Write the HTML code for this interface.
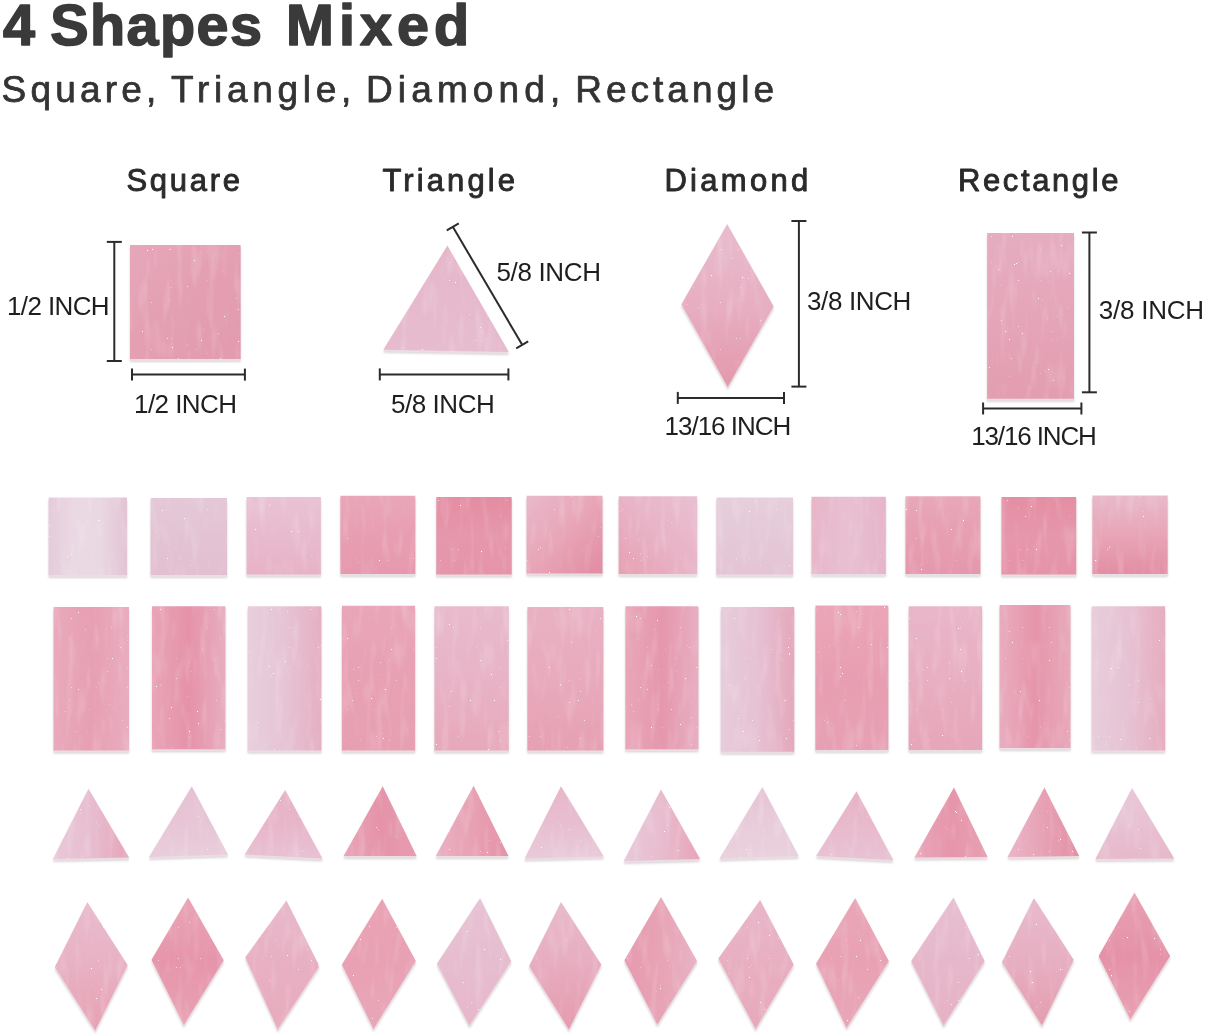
<!DOCTYPE html>
<html><head><meta charset="utf-8"><style>
html,body{margin:0;padding:0;background:#fff;width:1205px;height:1036px;overflow:hidden}
svg{display:block;font-family:"Liberation Sans", sans-serif;-webkit-font-smoothing:antialiased}
text{will-change:transform}
</style></head><body>
<svg width="1205" height="1036" viewBox="0 0 1205 1036">
<defs>
<filter id="sh" x="-15%" y="-15%" width="130%" height="135%" color-interpolation-filters="sRGB">
<feGaussianBlur in="SourceAlpha" stdDeviation="1.2"/><feOffset dy="2.6" result="b"/>
<feFlood flood-color="#7a6a70" flood-opacity="0.30"/><feComposite in2="b" operator="in" result="shadow"/>
<feOffset in="SourceAlpha" dy="1.6" result="ed"/><feFlood flood-color="#eadde3"/><feComposite in2="ed" operator="in" result="edge"/>
<feTurbulence type="fractalNoise" baseFrequency="0.12 0.025" numOctaves="2" seed="5" result="n"/>
<feColorMatrix in="n" type="matrix" values="0 0 0 0 1  0 0 0 0 1  0 0 0 0 1  0.45 0 0 0 -0.22" result="wn"/>
<feComposite in="wn" in2="SourceAlpha" operator="in" result="wt"/>
<feTurbulence type="turbulence" baseFrequency="0.45" numOctaves="1" seed="11" result="n2"/>
<feColorMatrix in="n2" type="matrix" values="0 0 0 0 1  0 0 0 0 1  0 0 0 0 1  0 6 0 0 -3.3" result="sp"/>
<feComposite in="sp" in2="SourceAlpha" operator="in" result="spk"/>
<feMerge><feMergeNode in="shadow"/><feMergeNode in="edge"/><feMergeNode in="SourceGraphic"/><feMergeNode in="wt"/><feMergeNode in="spk"/></feMerge>
</filter>
<linearGradient id="g0" x1="0" y1="0" x2="1" y2="1"><stop offset="0.000" stop-color="#e6a7ba"/><stop offset="0.500" stop-color="#e49fb2"/><stop offset="1.000" stop-color="#e29aae"/></linearGradient><linearGradient id="g1" x1="0" y1="0" x2="0" y2="1"><stop offset="0.000" stop-color="#e5b6c9"/><stop offset="0.500" stop-color="#e6b9cc"/><stop offset="1.000" stop-color="#e6bcce"/></linearGradient><linearGradient id="g2" x1="0" y1="0" x2="0" y2="1"><stop offset="0.000" stop-color="#e8bcce"/><stop offset="0.500" stop-color="#e7aec1"/><stop offset="1.000" stop-color="#e498ad"/></linearGradient><linearGradient id="g3" x1="0" y1="0" x2="0" y2="1"><stop offset="0.000" stop-color="#e6acc0"/><stop offset="0.500" stop-color="#e5a5b9"/><stop offset="1.000" stop-color="#e39db0"/></linearGradient><linearGradient id="g4" x1="0" y1="0" x2="1" y2="0"><stop offset="0.000" stop-color="#e5cbda"/><stop offset="0.333" stop-color="#ead9e3"/><stop offset="0.667" stop-color="#e9d7e1"/><stop offset="1.000" stop-color="#e3c4d4"/></linearGradient><linearGradient id="g5" x1="0" y1="0" x2="0" y2="1"><stop offset="0.000" stop-color="#e4c8d7"/><stop offset="0.500" stop-color="#e3c3d3"/><stop offset="1.000" stop-color="#e2bfd1"/></linearGradient><linearGradient id="g6" x1="0" y1="0" x2="0" y2="1"><stop offset="0.000" stop-color="#e9c2d4"/><stop offset="0.500" stop-color="#e8bacd"/><stop offset="1.000" stop-color="#e7b2c6"/></linearGradient><linearGradient id="g7" x1="0" y1="0" x2="0" y2="1"><stop offset="0.000" stop-color="#e9a6b9"/><stop offset="0.500" stop-color="#e89eb2"/><stop offset="1.000" stop-color="#e699ae"/></linearGradient><linearGradient id="g8" x1="0" y1="0" x2="0" y2="1"><stop offset="0.000" stop-color="#e48ca2"/><stop offset="0.500" stop-color="#e697ab"/><stop offset="1.000" stop-color="#e694a9"/></linearGradient><linearGradient id="g9" x1="0" y1="0" x2="1" y2="1"><stop offset="0.000" stop-color="#e8b9cb"/><stop offset="0.500" stop-color="#e8a5b7"/><stop offset="1.000" stop-color="#e28ba2"/></linearGradient><linearGradient id="g10" x1="1" y1="0" x2="0" y2="1"><stop offset="0.000" stop-color="#e9bfd1"/><stop offset="0.500" stop-color="#e8b3c6"/><stop offset="1.000" stop-color="#e7a0b3"/></linearGradient><linearGradient id="g11" x1="0" y1="0" x2="0" y2="1"><stop offset="0.000" stop-color="#e6cedb"/><stop offset="0.500" stop-color="#e5c9d8"/><stop offset="1.000" stop-color="#e4c4d4"/></linearGradient><linearGradient id="g12" x1="0" y1="0" x2="1" y2="0"><stop offset="0.000" stop-color="#e7b5c8"/><stop offset="0.500" stop-color="#e8c0d2"/><stop offset="1.000" stop-color="#e6b4c8"/></linearGradient><linearGradient id="g13" x1="0" y1="0" x2="0" y2="1"><stop offset="0.000" stop-color="#e8a7ba"/><stop offset="0.500" stop-color="#e79eb1"/><stop offset="1.000" stop-color="#e598ad"/></linearGradient><linearGradient id="g14" x1="0" y1="0" x2="0" y2="1"><stop offset="0.000" stop-color="#e48ea3"/><stop offset="0.500" stop-color="#e697ab"/><stop offset="1.000" stop-color="#e693a8"/></linearGradient><linearGradient id="g15" x1="0" y1="0" x2="0" y2="1"><stop offset="0.000" stop-color="#e8b9cb"/><stop offset="0.500" stop-color="#e8a5b7"/><stop offset="1.000" stop-color="#e38ea4"/></linearGradient><linearGradient id="g16" x1="0" y1="0" x2="1" y2="0"><stop offset="0.000" stop-color="#e9a9bc"/><stop offset="0.500" stop-color="#e79fb3"/><stop offset="1.000" stop-color="#e9acbf"/></linearGradient><linearGradient id="g17" x1="0" y1="0" x2="1" y2="0"><stop offset="0.000" stop-color="#e9a5b7"/><stop offset="0.500" stop-color="#e592a9"/><stop offset="1.000" stop-color="#e8adc0"/></linearGradient><linearGradient id="g18" x1="0" y1="0" x2="1" y2="0"><stop offset="0.000" stop-color="#e8cedb"/><stop offset="0.500" stop-color="#e6c4d5"/><stop offset="1.000" stop-color="#e6aec2"/></linearGradient><linearGradient id="g19" x1="0" y1="0" x2="0" y2="1"><stop offset="0.000" stop-color="#e9a6b9"/><stop offset="0.500" stop-color="#e8a0b3"/><stop offset="1.000" stop-color="#e79fb2"/></linearGradient><linearGradient id="g20" x1="0" y1="0" x2="0" y2="1"><stop offset="0.000" stop-color="#e8bacc"/><stop offset="0.500" stop-color="#e8b3c6"/><stop offset="1.000" stop-color="#e7a8bb"/></linearGradient><linearGradient id="g21" x1="0" y1="0" x2="0" y2="1"><stop offset="0.000" stop-color="#e9b1c3"/><stop offset="0.500" stop-color="#e8aabd"/><stop offset="1.000" stop-color="#e6a0b3"/></linearGradient><linearGradient id="g22" x1="0" y1="0" x2="1" y2="0"><stop offset="0.000" stop-color="#e9a6b9"/><stop offset="0.500" stop-color="#e597ad"/><stop offset="1.000" stop-color="#e8aec1"/></linearGradient><linearGradient id="g23" x1="0" y1="0" x2="1" y2="0"><stop offset="0.000" stop-color="#e7ccda"/><stop offset="0.500" stop-color="#e6c1d3"/><stop offset="1.000" stop-color="#e5a7bb"/></linearGradient><linearGradient id="g24" x1="0" y1="0" x2="0" y2="1"><stop offset="0.000" stop-color="#eaa6b7"/><stop offset="0.500" stop-color="#e89eb2"/><stop offset="1.000" stop-color="#e7a0b3"/></linearGradient><linearGradient id="g25" x1="0" y1="0" x2="0" y2="1"><stop offset="0.000" stop-color="#e9b6c9"/><stop offset="0.500" stop-color="#e8aec1"/><stop offset="1.000" stop-color="#e7a6b9"/></linearGradient><linearGradient id="g26" x1="0" y1="0" x2="1" y2="0"><stop offset="0.000" stop-color="#e9acbf"/><stop offset="0.500" stop-color="#e695ab"/><stop offset="1.000" stop-color="#e8a9bb"/></linearGradient><linearGradient id="g27" x1="0" y1="0" x2="1" y2="0"><stop offset="0.000" stop-color="#e8cddb"/><stop offset="0.500" stop-color="#e6c2d3"/><stop offset="1.000" stop-color="#e6adc0"/></linearGradient><linearGradient id="g28" x1="0" y1="0" x2="1" y2="0"><stop offset="0.000" stop-color="#e9c8d8"/><stop offset="0.500" stop-color="#e7bdd0"/><stop offset="1.000" stop-color="#e7a5b8"/></linearGradient><linearGradient id="g29" x1="0" y1="0" x2="0" y2="1"><stop offset="0.000" stop-color="#e6c2d4"/><stop offset="0.500" stop-color="#e7c5d5"/><stop offset="1.000" stop-color="#e9cddb"/></linearGradient><linearGradient id="g30" x1="0" y1="0" x2="0" y2="1"><stop offset="0.000" stop-color="#e7b2c6"/><stop offset="0.500" stop-color="#e8b6c9"/><stop offset="1.000" stop-color="#e8c1d3"/></linearGradient><linearGradient id="g31" x1="0" y1="0" x2="1" y2="0"><stop offset="0.000" stop-color="#e9a6b9"/><stop offset="0.500" stop-color="#e593a8"/><stop offset="1.000" stop-color="#e79cb0"/></linearGradient><linearGradient id="g32" x1="0" y1="0" x2="1" y2="0"><stop offset="0.000" stop-color="#e9b1c3"/><stop offset="0.500" stop-color="#e8a1b3"/><stop offset="1.000" stop-color="#e592a7"/></linearGradient><linearGradient id="g33" x1="0" y1="0" x2="0" y2="1"><stop offset="0.000" stop-color="#e8b6c9"/><stop offset="0.500" stop-color="#e7bed0"/><stop offset="1.000" stop-color="#e9cad9"/></linearGradient><linearGradient id="g34" x1="0" y1="0" x2="1" y2="0"><stop offset="0.000" stop-color="#e8c8d8"/><stop offset="0.500" stop-color="#e8bcce"/><stop offset="1.000" stop-color="#e7a4b7"/></linearGradient><linearGradient id="g35" x1="0" y1="0" x2="0" y2="1"><stop offset="0.000" stop-color="#e6c4d4"/><stop offset="0.500" stop-color="#e8cbd9"/><stop offset="1.000" stop-color="#e9d1dd"/></linearGradient><linearGradient id="g36" x1="0" y1="0" x2="0" y2="1"><stop offset="0.000" stop-color="#e7b2c5"/><stop offset="0.500" stop-color="#e8bacc"/><stop offset="1.000" stop-color="#e8c2d3"/></linearGradient><linearGradient id="g37" x1="0" y1="0" x2="1" y2="0"><stop offset="0.000" stop-color="#e9a8bb"/><stop offset="0.500" stop-color="#e695aa"/><stop offset="1.000" stop-color="#e8a0b2"/></linearGradient><linearGradient id="g38" x1="0" y1="0" x2="1" y2="0"><stop offset="0.000" stop-color="#e9b6c9"/><stop offset="0.500" stop-color="#e7a1b4"/><stop offset="1.000" stop-color="#e490a6"/></linearGradient><linearGradient id="g39" x1="0" y1="0" x2="0" y2="1"><stop offset="0.000" stop-color="#e9c8d8"/><stop offset="0.500" stop-color="#e8c1d2"/><stop offset="1.000" stop-color="#e6b9cb"/></linearGradient><linearGradient id="g40" x1="0" y1="0" x2="0" y2="1"><stop offset="0.000" stop-color="#e8bcce"/><stop offset="0.500" stop-color="#e8b1c3"/><stop offset="1.000" stop-color="#e6a1b3"/></linearGradient><linearGradient id="g41" x1="0" y1="0" x2="0" y2="1"><stop offset="0.000" stop-color="#e9a5b6"/><stop offset="0.500" stop-color="#e695ab"/><stop offset="1.000" stop-color="#e8a1b3"/></linearGradient><linearGradient id="g42" x1="0" y1="0" x2="0" y2="1"><stop offset="0.000" stop-color="#e8b9cb"/><stop offset="0.500" stop-color="#e8afc2"/><stop offset="1.000" stop-color="#e8abbd"/></linearGradient><linearGradient id="g43" x1="0" y1="0" x2="0" y2="1"><stop offset="0.000" stop-color="#e8a3b5"/><stop offset="0.500" stop-color="#e8a1b3"/><stop offset="1.000" stop-color="#e9a6b9"/></linearGradient><linearGradient id="g44" x1="0" y1="0" x2="0" y2="1"><stop offset="0.000" stop-color="#e7c3d5"/><stop offset="0.500" stop-color="#e6bdcf"/><stop offset="1.000" stop-color="#e7b6c9"/></linearGradient><linearGradient id="g45" x1="0" y1="0" x2="0" y2="1"><stop offset="0.000" stop-color="#e8bbcc"/><stop offset="0.500" stop-color="#e7acbf"/><stop offset="1.000" stop-color="#e59baf"/></linearGradient><linearGradient id="g46" x1="0" y1="0" x2="1" y2="0"><stop offset="0.000" stop-color="#e69aaf"/><stop offset="0.500" stop-color="#e8a3b5"/><stop offset="1.000" stop-color="#e8b3c6"/></linearGradient><linearGradient id="g47" x1="0" y1="0" x2="0" y2="1"><stop offset="0.000" stop-color="#e8b6ca"/><stop offset="0.500" stop-color="#e8afc1"/><stop offset="1.000" stop-color="#e7a9bc"/></linearGradient><linearGradient id="g48" x1="0" y1="0" x2="0" y2="1"><stop offset="0.000" stop-color="#e9a6b8"/><stop offset="0.500" stop-color="#e8a1b3"/><stop offset="1.000" stop-color="#e9a6b8"/></linearGradient><linearGradient id="g49" x1="0" y1="0" x2="0" y2="1"><stop offset="0.000" stop-color="#e7bfd1"/><stop offset="0.500" stop-color="#e6b7ca"/><stop offset="1.000" stop-color="#e6b1c5"/></linearGradient><linearGradient id="g50" x1="0" y1="0" x2="0" y2="1"><stop offset="0.000" stop-color="#e8bbcd"/><stop offset="0.500" stop-color="#e7aec1"/><stop offset="1.000" stop-color="#e59db0"/></linearGradient><linearGradient id="g51" x1="0" y1="0" x2="0" y2="1"><stop offset="0.000" stop-color="#e8a0b3"/><stop offset="0.500" stop-color="#e592a8"/><stop offset="1.000" stop-color="#e8a0b2"/></linearGradient>
</defs>
<rect width="1205" height="1036" fill="#fff"/>
<polygon points="130.0,245.1 240.6,245.1 240.6,359.0 130.0,359.0" fill="url(#g0)" filter="url(#sh)"/><polygon points="447.4,245.6 508.9,352.0 383.3,349.8" fill="url(#g1)" filter="url(#sh)"/><polygon points="727.2,224.1 773.6,306.2 727.7,387.0 681.4,304.3" fill="url(#g2)" filter="url(#sh)"/><polygon points="987.2,232.9 1074.0,232.9 1074.0,398.8 987.2,398.8" fill="url(#g3)" filter="url(#sh)"/><polygon points="48.7,497.4 127.0,497.4 127.0,575.0 48.7,575.0" fill="url(#g4)" filter="url(#sh)"/><polygon points="150.7,498.0 227.0,498.0 227.0,575.0 150.7,575.0" fill="url(#g5)" filter="url(#sh)"/><polygon points="246.6,497.0 320.8,497.0 320.8,574.6 246.6,574.6" fill="url(#g6)" filter="url(#sh)"/><polygon points="340.4,495.7 415.3,495.7 415.3,574.0 340.4,574.0" fill="url(#g7)" filter="url(#sh)"/><polygon points="436.3,497.0 511.7,497.0 511.7,574.6 436.3,574.6" fill="url(#g8)" filter="url(#sh)"/><polygon points="526.6,495.7 602.5,495.7 602.5,573.4 526.6,573.4" fill="url(#g9)" filter="url(#sh)"/><polygon points="618.7,496.2 697.1,496.2 697.1,574.0 618.7,574.0" fill="url(#g10)" filter="url(#sh)"/><polygon points="716.5,497.4 793.0,497.4 793.0,574.6 716.5,574.6" fill="url(#g11)" filter="url(#sh)"/><polygon points="811.6,496.7 885.8,496.7 885.8,574.0 811.6,574.0" fill="url(#g12)" filter="url(#sh)"/><polygon points="905.5,496.2 980.4,496.2 980.4,574.0 905.5,574.0" fill="url(#g13)" filter="url(#sh)"/><polygon points="1001.5,497.0 1076.2,497.0 1076.2,574.6 1001.5,574.6" fill="url(#g14)" filter="url(#sh)"/><polygon points="1092.4,495.4 1167.6,495.4 1167.6,574.0 1092.4,574.0" fill="url(#g15)" filter="url(#sh)"/><polygon points="53.6,606.9 129.0,606.9 129.0,750.6 53.6,750.6" fill="url(#g16)" filter="url(#sh)"/><polygon points="152.0,606.2 225.4,606.2 225.4,749.3 152.0,749.3" fill="url(#g17)" filter="url(#sh)"/><polygon points="247.8,606.2 321.3,606.2 321.3,750.6 247.8,750.6" fill="url(#g18)" filter="url(#sh)"/><polygon points="341.9,605.7 415.1,605.7 415.1,750.6 341.9,750.6" fill="url(#g19)" filter="url(#sh)"/><polygon points="434.5,606.2 508.7,606.2 508.7,750.6 434.5,750.6" fill="url(#g20)" filter="url(#sh)"/><polygon points="527.4,606.9 603.3,606.9 603.3,750.6 527.4,750.6" fill="url(#g21)" filter="url(#sh)"/><polygon points="625.4,606.2 698.4,606.2 698.4,749.3 625.4,749.3" fill="url(#g22)" filter="url(#sh)"/><polygon points="720.8,606.9 794.2,606.9 794.2,751.8 720.8,751.8" fill="url(#g23)" filter="url(#sh)"/><polygon points="815.4,605.4 888.3,605.4 888.3,750.0 815.4,750.0" fill="url(#g24)" filter="url(#sh)"/><polygon points="908.7,606.2 982.1,606.2 982.1,750.0 908.7,750.0" fill="url(#g25)" filter="url(#sh)"/><polygon points="999.6,605.0 1070.5,605.0 1070.5,748.0 999.6,748.0" fill="url(#g26)" filter="url(#sh)"/><polygon points="1091.7,606.2 1165.1,606.2 1165.1,750.6 1091.7,750.6" fill="url(#g27)" filter="url(#sh)"/><polygon points="88.5,788.7 129.1,857.6 52.9,859.1" fill="url(#g28)" filter="url(#sh)"/><polygon points="191.8,786.2 227.9,854.6 149.0,857.1" fill="url(#g29)" filter="url(#sh)"/><polygon points="285.2,789.9 322.5,858.4 244.6,854.6" fill="url(#g30)" filter="url(#sh)"/><polygon points="382.7,786.2 416.6,855.9 343.6,855.9" fill="url(#g31)" filter="url(#sh)"/><polygon points="473.6,785.7 508.5,855.9 435.8,855.9" fill="url(#g32)" filter="url(#sh)"/><polygon points="561.0,786.2 603.8,856.6 524.6,858.4" fill="url(#g33)" filter="url(#sh)"/><polygon points="661.0,789.4 700.1,859.1 623.7,860.9" fill="url(#g34)" filter="url(#sh)"/><polygon points="762.4,786.9 798.7,855.9 719.5,858.4" fill="url(#g35)" filter="url(#sh)"/><polygon points="856.5,791.2 893.3,860.1 816.1,855.9" fill="url(#g36)" filter="url(#sh)"/><polygon points="954.0,787.4 987.6,857.1 914.4,857.6" fill="url(#g37)" filter="url(#sh)"/><polygon points="1044.4,787.4 1079.2,855.9 1007.5,857.1" fill="url(#g38)" filter="url(#sh)"/><polygon points="1132.0,787.9 1174.3,858.4 1095.4,859.1" fill="url(#g39)" filter="url(#sh)"/><polygon points="87.3,901.9 127.6,965.1 95.2,1030.6 54.9,967.1" fill="url(#g40)" filter="url(#sh)"/><polygon points="188.1,897.4 223.7,960.2 183.8,1024.9 151.5,959.7" fill="url(#g41)" filter="url(#sh)"/><polygon points="286.4,900.4 319.3,965.9 277.7,1029.4 245.3,957.2" fill="url(#g42)" filter="url(#sh)"/><polygon points="382.2,898.7 415.8,960.9 373.5,1028.9 341.9,964.6" fill="url(#g43)" filter="url(#sh)"/><polygon points="480.1,897.9 511.2,960.9 469.4,1025.6 437.0,963.4" fill="url(#g44)" filter="url(#sh)"/><polygon points="561.0,901.9 601.3,964.6 568.9,1029.4 529.1,965.9" fill="url(#g45)" filter="url(#sh)"/><polygon points="661.0,896.9 697.1,960.9 657.3,1024.4 624.4,960.2" fill="url(#g46)" filter="url(#sh)"/><polygon points="760.1,899.9 793.7,964.6 755.6,1028.9 718.3,958.4" fill="url(#g47)" filter="url(#sh)"/><polygon points="855.2,897.9 888.8,960.9 846.5,1028.1 816.1,963.4" fill="url(#g48)" filter="url(#sh)"/><polygon points="953.5,897.4 984.6,960.9 943.5,1025.6 911.2,960.9" fill="url(#g49)" filter="url(#sh)"/><polygon points="1033.9,897.9 1073.7,959.7 1041.9,1025.6 1002.0,962.1" fill="url(#g50)" filter="url(#sh)"/><polygon points="1134.5,892.4 1170.1,955.9 1130.3,1019.4 1098.6,955.9" fill="url(#g51)" filter="url(#sh)"/>
<g stroke="#2b2b2b" stroke-width="2" stroke-linecap="butt"><line x1="114.3" y1="241.9" x2="114.3" y2="361"/><line x1="106.8" y1="241.9" x2="121.8" y2="241.9"/><line x1="106.8" y1="361" x2="121.8" y2="361"/><line x1="132" y1="374.6" x2="244.9" y2="374.6"/><line x1="132" y1="368.6" x2="132" y2="380.6"/><line x1="244.9" y1="368.6" x2="244.9" y2="380.6"/><line x1="452.8" y1="226.8" x2="522.2" y2="344.8"/><line x1="458.8" y1="223.3" x2="446.8" y2="230.3"/><line x1="528.2" y1="341.3" x2="516.2" y2="348.3"/><line x1="379.8" y1="374.4" x2="508.4" y2="374.4"/><line x1="379.8" y1="368.4" x2="379.8" y2="380.4"/><line x1="508.4" y1="368.4" x2="508.4" y2="380.4"/><line x1="798.9" y1="221" x2="798.9" y2="386.6"/><line x1="791.4" y1="221" x2="806.4" y2="221"/><line x1="791.4" y1="386.6" x2="806.4" y2="386.6"/><line x1="677.8" y1="397.9" x2="784" y2="397.9"/><line x1="677.8" y1="391.9" x2="677.8" y2="403.9"/><line x1="784" y1="391.9" x2="784" y2="403.9"/><line x1="1089.4" y1="232.5" x2="1089.4" y2="392.3"/><line x1="1081.9" y1="232.5" x2="1096.9" y2="232.5"/><line x1="1081.9" y1="392.3" x2="1096.9" y2="392.3"/><line x1="983.1" y1="408.5" x2="1081.4" y2="408.5"/><line x1="983.1" y1="402.5" x2="983.1" y2="414.5"/><line x1="1081.4" y1="402.5" x2="1081.4" y2="414.5"/></g>
<text x="3.0" y="44.6" font-size="57.5" font-weight="bold" fill="#3a3a3a" stroke="#3a3a3a" stroke-width="1.6" stroke-linejoin="round" textLength="31.0" lengthAdjust="spacing">4</text><text x="50.2" y="44.6" font-size="57.5" font-weight="bold" fill="#3a3a3a" stroke="#3a3a3a" stroke-width="1.6" stroke-linejoin="round" textLength="211.8" lengthAdjust="spacing">Shapes</text><text x="286.0" y="44.6" font-size="57.5" font-weight="bold" fill="#3a3a3a" stroke="#3a3a3a" stroke-width="1.6" stroke-linejoin="round" textLength="183.0" lengthAdjust="spacing">Mixed</text><text x="1.6" y="102.4" font-size="37" font-weight="normal" fill="#333333" stroke="#333333" stroke-width="0.75" stroke-linejoin="round" textLength="154.6" lengthAdjust="spacing">Square,</text><text x="171.0" y="102.4" font-size="37" font-weight="normal" fill="#333333" stroke="#333333" stroke-width="0.75" stroke-linejoin="round" textLength="180.2" lengthAdjust="spacing">Triangle,</text><text x="366.0" y="102.4" font-size="37" font-weight="normal" fill="#333333" stroke="#333333" stroke-width="0.75" stroke-linejoin="round" textLength="194.2" lengthAdjust="spacing">Diamond,</text><text x="575.2" y="102.4" font-size="37" font-weight="normal" fill="#333333" stroke="#333333" stroke-width="0.75" stroke-linejoin="round" textLength="198.8" lengthAdjust="spacing">Rectangle</text><text x="126.4" y="190.5" font-size="31" font-weight="normal" fill="#2a2a2a" stroke="#2a2a2a" stroke-width="0.9" stroke-linejoin="round" textLength="113.6" lengthAdjust="spacing">Square</text><text x="382.4" y="190.8" font-size="31" font-weight="normal" fill="#2a2a2a" stroke="#2a2a2a" stroke-width="0.9" stroke-linejoin="round" textLength="132.6" lengthAdjust="spacing">Triangle</text><text x="664.4" y="190.6" font-size="31" font-weight="normal" fill="#2a2a2a" stroke="#2a2a2a" stroke-width="0.9" stroke-linejoin="round" textLength="143.8" lengthAdjust="spacing">Diamond</text><text x="958.0" y="190.8" font-size="31" font-weight="normal" fill="#2a2a2a" stroke="#2a2a2a" stroke-width="0.9" stroke-linejoin="round" textLength="160.4" lengthAdjust="spacing">Rectangle</text><text x="7.0" y="315.2" font-size="26" font-weight="normal" fill="#1e1e1e" textLength="102.6" lengthAdjust="spacing">1/2 INCH</text><text x="134.0" y="413.4" font-size="26" font-weight="normal" fill="#1e1e1e" textLength="103.0" lengthAdjust="spacing">1/2 INCH</text><text x="496.4" y="281.2" font-size="26" font-weight="normal" fill="#1e1e1e" textLength="104.6" lengthAdjust="spacing">5/8 INCH</text><text x="391.0" y="412.8" font-size="26" font-weight="normal" fill="#1e1e1e" textLength="103.8" lengthAdjust="spacing">5/8 INCH</text><text x="807.0" y="310.4" font-size="26" font-weight="normal" fill="#1e1e1e" textLength="104.4" lengthAdjust="spacing">3/8 INCH</text><text x="664.6" y="434.6" font-size="26" font-weight="normal" fill="#1e1e1e" textLength="126.6" lengthAdjust="spacing">13/16 INCH</text><text x="1098.8" y="318.6" font-size="26" font-weight="normal" fill="#1e1e1e" textLength="105.2" lengthAdjust="spacing">3/8 INCH</text><text x="971.2" y="445.4" font-size="26" font-weight="normal" fill="#1e1e1e" textLength="125.6" lengthAdjust="spacing">13/16 INCH</text>
</svg>
</body></html>
